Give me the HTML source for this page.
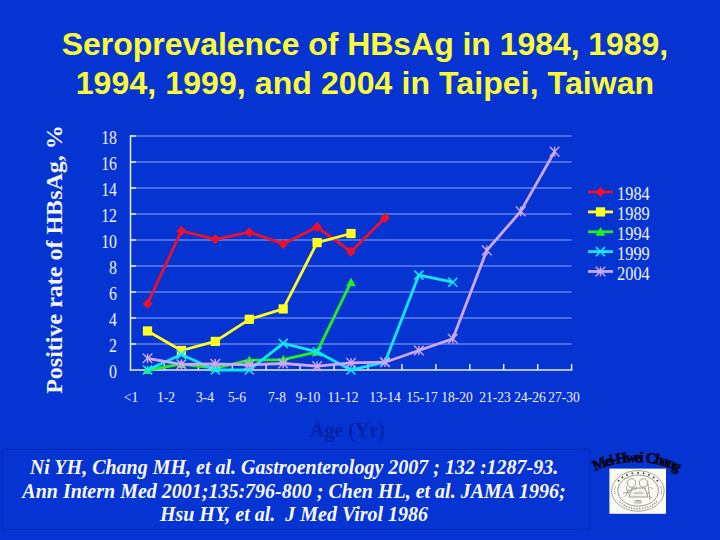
<!DOCTYPE html>
<html><head><meta charset="utf-8"><style>
html,body{margin:0;padding:0;}
body{width:720px;height:540px;overflow:hidden;background:#0634d3;position:relative;}
.t{position:absolute;left:0;width:730px;text-align:center;font-family:"Liberation Sans",sans-serif;font-weight:bold;font-size:32px;color:#fcfc36;line-height:37px;white-space:nowrap;}
.yl{position:absolute;right:603.5px;font-family:"Liberation Serif",serif;font-size:18px;color:#eef2ff;line-height:20px;transform:scaleX(0.88);transform-origin:100% 0;}
.xl{position:absolute;top:389px;width:100px;text-align:center;font-family:"Liberation Serif",serif;font-size:15px;color:#eef2ff;line-height:17px;white-space:nowrap;transform:scaleX(0.9);}
.lg{position:absolute;left:617px;font-family:"Liberation Serif",serif;font-size:18px;color:#eef2ff;line-height:20px;transform:scaleX(0.91);transform-origin:0 0;}
.ylab{position:absolute;font-family:"Liberation Serif",serif;font-weight:bold;font-size:24px;color:#f4f6ff;white-space:nowrap;line-height:27px;width:300px;text-align:center;transform:rotate(-90deg);left:-96px;top:246px;}
.age{position:absolute;left:310px;top:419px;font-family:"Liberation Serif",serif;font-weight:bold;font-size:20px;color:#0323a4;white-space:nowrap;line-height:23px;}
.box{position:absolute;left:2px;top:449px;width:586px;height:79px;border:1px solid #0428b6;background:#0634d3;}
.cit{position:absolute;left:0;width:588px;text-align:center;font-family:"Liberation Serif",serif;font-weight:bold;font-style:italic;font-size:20px;color:#f8f8ff;white-space:pre;line-height:23.7px;top:456px;}
svg{position:absolute;left:0;top:0;}
</style></head><body>
<div class="t" style="top:26px;letter-spacing:-0.05px">Seroprevalence of HBsAg in 1984, 1989,</div>
<div class="t" style="top:64.6px;letter-spacing:0.09px">1994, 1999, and 2004 in Taipei, Taiwan</div>
<div class="ylab">Positive rate of HBsAg, %</div>
<div class="yl" style="top:127.5px">18</div><div class="yl" style="top:153.5px">16</div><div class="yl" style="top:179.5px">14</div><div class="yl" style="top:205.5px">12</div><div class="yl" style="top:231.5px">10</div><div class="yl" style="top:257.5px">8</div><div class="yl" style="top:283.5px">6</div><div class="yl" style="top:309.5px">4</div><div class="yl" style="top:335.5px">2</div><div class="yl" style="top:361.5px">0</div>
<div class="xl" style="left:80.8px">&lt;1</div><div class="xl" style="left:116.0px">1-2</div><div class="xl" style="left:154.8px">3-4</div><div class="xl" style="left:187.0px">5-6</div><div class="xl" style="left:226.8px">7-8</div><div class="xl" style="left:257.6px">9-10</div><div class="xl" style="left:293.1px">11-12</div><div class="xl" style="left:334.6px">13-14</div><div class="xl" style="left:372.3px">15-17</div><div class="xl" style="left:407.3px">18-20</div><div class="xl" style="left:444.9px">21-23</div><div class="xl" style="left:479.7px">24-26</div><div class="xl" style="left:514.4px">27-30</div>
<div class="lg" style="top:184.4px">1984</div><div class="lg" style="top:204.3px">1989</div><div class="lg" style="top:224.2px">1994</div><div class="lg" style="top:244.0px">1999</div><div class="lg" style="top:263.9px">2004</div>
<div class="age">Age (Yr)</div>
<div class="box"></div>
<div class="cit">Ni YH, Chang MH, et al. Gastroenterology 2007 ; 132 :1287-93.
Ann Intern Med 2001;135:796-800 ; Chen HL, et al. JAMA 1996;
Hsu HY, et al.  J Med Virol 1986</div>
<svg width="720" height="540" viewBox="0 0 720 540">
<line x1="130.5" y1="136" x2="571.6" y2="136" stroke="#6482ea" stroke-width="1.4"/><line x1="130.5" y1="136" x2="136.0" y2="136" stroke="#e8f0ff" stroke-width="1.5"/><line x1="130.5" y1="162" x2="571.6" y2="162" stroke="#6482ea" stroke-width="1.4"/><line x1="130.5" y1="162" x2="136.0" y2="162" stroke="#e8f0ff" stroke-width="1.5"/><line x1="130.5" y1="188" x2="571.6" y2="188" stroke="#6482ea" stroke-width="1.4"/><line x1="130.5" y1="188" x2="136.0" y2="188" stroke="#e8f0ff" stroke-width="1.5"/><line x1="130.5" y1="214" x2="571.6" y2="214" stroke="#6482ea" stroke-width="1.4"/><line x1="130.5" y1="214" x2="136.0" y2="214" stroke="#e8f0ff" stroke-width="1.5"/><line x1="130.5" y1="240" x2="571.6" y2="240" stroke="#6482ea" stroke-width="1.4"/><line x1="130.5" y1="240" x2="136.0" y2="240" stroke="#e8f0ff" stroke-width="1.5"/><line x1="130.5" y1="266" x2="571.6" y2="266" stroke="#6482ea" stroke-width="1.4"/><line x1="130.5" y1="266" x2="136.0" y2="266" stroke="#e8f0ff" stroke-width="1.5"/><line x1="130.5" y1="292" x2="571.6" y2="292" stroke="#6482ea" stroke-width="1.4"/><line x1="130.5" y1="292" x2="136.0" y2="292" stroke="#e8f0ff" stroke-width="1.5"/><line x1="130.5" y1="318" x2="571.6" y2="318" stroke="#6482ea" stroke-width="1.4"/><line x1="130.5" y1="318" x2="136.0" y2="318" stroke="#e8f0ff" stroke-width="1.5"/><line x1="130.5" y1="344" x2="571.6" y2="344" stroke="#6482ea" stroke-width="1.4"/><line x1="130.5" y1="344" x2="136.0" y2="344" stroke="#e8f0ff" stroke-width="1.5"/><line x1="130.5" y1="135.3" x2="130.5" y2="370.7" stroke="#e4ecff" stroke-width="1.5"/><line x1="129.8" y1="370.0" x2="572.3" y2="370.0" stroke="#e4ecff" stroke-width="1.5"/><line x1="164.4" y1="364.0" x2="164.4" y2="370.0" stroke="#e4ecff" stroke-width="1.5"/><line x1="198.4" y1="364.0" x2="198.4" y2="370.0" stroke="#e4ecff" stroke-width="1.5"/><line x1="232.3" y1="364.0" x2="232.3" y2="370.0" stroke="#e4ecff" stroke-width="1.5"/><line x1="266.2" y1="364.0" x2="266.2" y2="370.0" stroke="#e4ecff" stroke-width="1.5"/><line x1="300.1" y1="364.0" x2="300.1" y2="370.0" stroke="#e4ecff" stroke-width="1.5"/><line x1="334.1" y1="364.0" x2="334.1" y2="370.0" stroke="#e4ecff" stroke-width="1.5"/><line x1="368.0" y1="364.0" x2="368.0" y2="370.0" stroke="#e4ecff" stroke-width="1.5"/><line x1="401.9" y1="364.0" x2="401.9" y2="370.0" stroke="#e4ecff" stroke-width="1.5"/><line x1="435.9" y1="364.0" x2="435.9" y2="370.0" stroke="#e4ecff" stroke-width="1.5"/><line x1="469.8" y1="364.0" x2="469.8" y2="370.0" stroke="#e4ecff" stroke-width="1.5"/><line x1="503.7" y1="364.0" x2="503.7" y2="370.0" stroke="#e4ecff" stroke-width="1.5"/><line x1="537.7" y1="364.0" x2="537.7" y2="370.0" stroke="#e4ecff" stroke-width="1.5"/><line x1="571.6" y1="364.0" x2="571.6" y2="370.0" stroke="#e4ecff" stroke-width="1.5"/><polyline points="147.5,303.7 181.4,230.9 215.3,239.3 249.3,232.2 283.2,243.9 317.1,227.0 351.0,251.7 385.0,217.9" fill="none" stroke="#ee1028" stroke-width="2.8" stroke-linejoin="round"/><path d="M147.5 298.7L152.5 303.7L147.5 308.7L142.5 303.7Z" fill="#ee1028"/><path d="M181.4 225.9L186.4 230.9L181.4 235.9L176.4 230.9Z" fill="#ee1028"/><path d="M215.3 234.3L220.3 239.3L215.3 244.3L210.3 239.3Z" fill="#ee1028"/><path d="M249.3 227.2L254.3 232.2L249.3 237.2L244.3 232.2Z" fill="#ee1028"/><path d="M283.2 238.9L288.2 243.9L283.2 248.9L278.2 243.9Z" fill="#ee1028"/><path d="M317.1 222.0L322.1 227.0L317.1 232.0L312.1 227.0Z" fill="#ee1028"/><path d="M351.0 246.7L356.0 251.7L351.0 256.7L346.0 251.7Z" fill="#ee1028"/><path d="M385.0 212.9L390.0 217.9L385.0 222.9L380.0 217.9Z" fill="#ee1028"/><polyline points="147.5,331.0 181.4,350.5 215.3,341.4 249.3,319.3 283.2,308.9 317.1,242.6 351.0,233.5" fill="none" stroke="#ffff20" stroke-width="2.8" stroke-linejoin="round"/><rect x="142.9" y="326.4" width="9.2" height="9.2" fill="#ffff20"/><rect x="176.8" y="345.9" width="9.2" height="9.2" fill="#ffff20"/><rect x="210.7" y="336.8" width="9.2" height="9.2" fill="#ffff20"/><rect x="244.7" y="314.7" width="9.2" height="9.2" fill="#ffff20"/><rect x="278.6" y="304.3" width="9.2" height="9.2" fill="#ffff20"/><rect x="312.5" y="238.0" width="9.2" height="9.2" fill="#ffff20"/><rect x="346.4" y="228.9" width="9.2" height="9.2" fill="#ffff20"/><polyline points="147.5,370.0 181.4,364.1 215.3,368.1 249.3,360.2 283.2,359.6 317.1,351.8 351.0,282.2" fill="none" stroke="#22ee22" stroke-width="2.8" stroke-linejoin="round"/><path d="M147.5 365.2L152.3 374.0L142.7 374.0Z" fill="#22ee22"/><path d="M181.4 359.3L186.2 368.1L176.6 368.1Z" fill="#22ee22"/><path d="M215.3 363.2L220.1 372.1L210.5 372.1Z" fill="#22ee22"/><path d="M249.3 355.4L254.1 364.2L244.5 364.2Z" fill="#22ee22"/><path d="M283.2 354.8L288.0 363.6L278.4 363.6Z" fill="#22ee22"/><path d="M317.1 347.0L321.9 355.8L312.3 355.8Z" fill="#22ee22"/><path d="M351.0 277.4L355.8 286.2L346.2 286.2Z" fill="#22ee22"/><polyline points="147.5,370.0 181.4,354.4 215.3,370.0 249.3,370.0 283.2,343.4 317.1,351.8 351.0,370.0 385.0,362.2 418.9,275.1 452.8,282.2" fill="none" stroke="#10e8ff" stroke-width="2.8" stroke-linejoin="round"/><path d="M143.0 365.5L152.0 374.5M152.0 365.5L143.0 374.5" stroke="#10e8ff" stroke-width="1.6" fill="none"/><path d="M176.9 349.9L185.9 358.9M185.9 349.9L176.9 358.9" stroke="#10e8ff" stroke-width="1.6" fill="none"/><path d="M210.8 365.5L219.8 374.5M219.8 365.5L210.8 374.5" stroke="#10e8ff" stroke-width="1.6" fill="none"/><path d="M244.8 365.5L253.8 374.5M253.8 365.5L244.8 374.5" stroke="#10e8ff" stroke-width="1.6" fill="none"/><path d="M278.7 338.9L287.7 347.9M287.7 338.9L278.7 347.9" stroke="#10e8ff" stroke-width="1.6" fill="none"/><path d="M312.6 347.3L321.6 356.3M321.6 347.3L312.6 356.3" stroke="#10e8ff" stroke-width="1.6" fill="none"/><path d="M346.5 365.5L355.5 374.5M355.5 365.5L346.5 374.5" stroke="#10e8ff" stroke-width="1.6" fill="none"/><path d="M380.5 357.7L389.5 366.7M389.5 357.7L380.5 366.7" stroke="#10e8ff" stroke-width="1.6" fill="none"/><path d="M414.4 270.6L423.4 279.6M423.4 270.6L414.4 279.6" stroke="#10e8ff" stroke-width="1.6" fill="none"/><path d="M448.3 277.8L457.3 286.8M457.3 277.8L448.3 286.8" stroke="#10e8ff" stroke-width="1.6" fill="none"/><polyline points="147.5,358.3 181.4,364.4 215.3,363.8 249.3,364.8 283.2,363.5 317.1,366.1 351.0,362.9 385.0,362.2 418.9,350.5 452.8,338.8 486.8,250.4 520.7,211.4 554.6,151.6" fill="none" stroke="#cfa8f4" stroke-width="2.8" stroke-linejoin="round"/><path d="M142.7 353.5L152.3 363.1M152.3 353.5L142.7 363.1M147.5 353.5L147.5 363.1" stroke="#cfa8f4" stroke-width="1.4" fill="none"/><path d="M176.6 359.6L186.2 369.2M186.2 359.6L176.6 369.2M181.4 359.6L181.4 369.2" stroke="#cfa8f4" stroke-width="1.4" fill="none"/><path d="M210.5 359.0L220.1 368.6M220.1 359.0L210.5 368.6M215.3 359.0L215.3 368.6" stroke="#cfa8f4" stroke-width="1.4" fill="none"/><path d="M244.5 360.0L254.1 369.6M254.1 360.0L244.5 369.6M249.3 360.0L249.3 369.6" stroke="#cfa8f4" stroke-width="1.4" fill="none"/><path d="M278.4 358.7L288.0 368.3M288.0 358.7L278.4 368.3M283.2 358.7L283.2 368.3" stroke="#cfa8f4" stroke-width="1.4" fill="none"/><path d="M312.3 361.3L321.9 370.9M321.9 361.3L312.3 370.9M317.1 361.3L317.1 370.9" stroke="#cfa8f4" stroke-width="1.4" fill="none"/><path d="M346.2 358.1L355.8 367.7M355.8 358.1L346.2 367.7M351.0 358.1L351.0 367.7" stroke="#cfa8f4" stroke-width="1.4" fill="none"/><path d="M380.2 357.4L389.8 367.0M389.8 357.4L380.2 367.0M385.0 357.4L385.0 367.0" stroke="#cfa8f4" stroke-width="1.4" fill="none"/><path d="M414.1 345.7L423.7 355.3M423.7 345.7L414.1 355.3M418.9 345.7L418.9 355.3" stroke="#cfa8f4" stroke-width="1.4" fill="none"/><path d="M448.0 334.0L457.6 343.6M457.6 334.0L448.0 343.6M452.8 334.0L452.8 343.6" stroke="#cfa8f4" stroke-width="1.4" fill="none"/><path d="M482.0 245.6L491.6 255.2M491.6 245.6L482.0 255.2M486.8 245.6L486.8 255.2" stroke="#cfa8f4" stroke-width="1.4" fill="none"/><path d="M515.9 206.6L525.5 216.2M525.5 206.6L515.9 216.2M520.7 206.6L520.7 216.2" stroke="#cfa8f4" stroke-width="1.4" fill="none"/><path d="M549.8 146.8L559.4 156.4M559.4 146.8L549.8 156.4M554.6 146.8L554.6 156.4" stroke="#cfa8f4" stroke-width="1.4" fill="none"/><line x1="588" y1="192" x2="613" y2="192" stroke="#ee1028" stroke-width="2.8"/><path d="M600.5 187.0L605.5 192.0L600.5 197.0L595.5 192.0Z" fill="#ee1028"/><line x1="588" y1="211.9" x2="613" y2="211.9" stroke="#ffff20" stroke-width="2.8"/><rect x="595.9" y="207.3" width="9.2" height="9.2" fill="#ffff20"/><line x1="588" y1="231.8" x2="613" y2="231.8" stroke="#22ee22" stroke-width="2.8"/><path d="M600.5 227.0L605.3 235.8L595.7 235.8Z" fill="#22ee22"/><line x1="588" y1="251.6" x2="613" y2="251.6" stroke="#10e8ff" stroke-width="2.8"/><path d="M596.0 247.1L605.0 256.1M605.0 247.1L596.0 256.1" stroke="#10e8ff" stroke-width="1.6" fill="none"/><line x1="588" y1="271.5" x2="613" y2="271.5" stroke="#cfa8f4" stroke-width="2.8"/><path d="M595.7 266.7L605.3 276.3M605.3 266.7L595.7 276.3M600.5 266.7L600.5 276.3" stroke="#cfa8f4" stroke-width="1.4" fill="none"/>
<rect x="609.4" y="468.6" width="56.6" height="45.2" fill="#fbfbf6"/>
<ellipse cx="637.9" cy="490.9" rx="26.3" ry="20.3" fill="none" stroke="#a09890" stroke-width="0.9"/>
<ellipse cx="638.1" cy="490.6" rx="20.3" ry="15.6" fill="none" stroke="#8e887e" stroke-width="0.9"/>
<rect x="617.70" y="479.83" width="1.8" height="1.8" fill="#5a5448" transform="rotate(-56.0 618.60 480.73)"/><rect x="621.44" y="476.52" width="1.8" height="1.8" fill="#5a5448" transform="rotate(-42.0 622.34 477.42)"/><rect x="626.11" y="474.01" width="1.8" height="1.8" fill="#5a5448" transform="rotate(-28.0 627.01 474.91)"/><rect x="631.44" y="472.43" width="1.8" height="1.8" fill="#5a5448" transform="rotate(-14.0 632.34 473.33)"/><rect x="637.10" y="471.90" width="1.8" height="1.8" fill="#5a5448" transform="rotate(0.0 638.00 472.80)"/><rect x="642.76" y="472.43" width="1.8" height="1.8" fill="#5a5448" transform="rotate(14.0 643.66 473.33)"/><rect x="648.09" y="474.01" width="1.8" height="1.8" fill="#5a5448" transform="rotate(28.0 648.99 474.91)"/><rect x="652.76" y="476.52" width="1.8" height="1.8" fill="#5a5448" transform="rotate(42.0 653.66 477.42)"/><rect x="656.50" y="479.83" width="1.8" height="1.8" fill="#5a5448" transform="rotate(56.0 657.40 480.73)"/><rect x="655.84" y="501.18" width="1.2" height="1.4" fill="#8a8478" transform="rotate(308.0 656.44 501.88)"/><rect x="654.00" y="502.78" width="1.2" height="1.4" fill="#8a8478" transform="rotate(314.8 654.60 503.48)"/><rect x="651.93" y="504.21" width="1.2" height="1.4" fill="#8a8478" transform="rotate(321.6 652.53 504.91)"/><rect x="649.66" y="505.43" width="1.2" height="1.4" fill="#8a8478" transform="rotate(328.4 650.26 506.13)"/><rect x="647.22" y="506.44" width="1.2" height="1.4" fill="#8a8478" transform="rotate(335.2 647.82 507.14)"/><rect x="644.63" y="507.22" width="1.2" height="1.4" fill="#8a8478" transform="rotate(342.0 645.23 507.92)"/><rect x="641.95" y="507.76" width="1.2" height="1.4" fill="#8a8478" transform="rotate(348.8 642.55 508.46)"/><rect x="639.20" y="508.05" width="1.2" height="1.4" fill="#8a8478" transform="rotate(355.6 639.80 508.75)"/><rect x="636.42" y="508.08" width="1.2" height="1.4" fill="#8a8478" transform="rotate(362.4 637.02 508.78)"/><rect x="633.66" y="507.87" width="1.2" height="1.4" fill="#8a8478" transform="rotate(369.2 634.26 508.57)"/><rect x="630.95" y="507.40" width="1.2" height="1.4" fill="#8a8478" transform="rotate(376.0 631.55 508.10)"/><rect x="628.33" y="506.69" width="1.2" height="1.4" fill="#8a8478" transform="rotate(382.8 628.93 507.39)"/><rect x="625.84" y="505.75" width="1.2" height="1.4" fill="#8a8478" transform="rotate(389.6 626.44 506.45)"/><rect x="623.51" y="504.59" width="1.2" height="1.4" fill="#8a8478" transform="rotate(396.4 624.11 505.29)"/><rect x="621.38" y="503.22" width="1.2" height="1.4" fill="#8a8478" transform="rotate(403.2 621.98 503.92)"/><rect x="619.47" y="501.67" width="1.2" height="1.4" fill="#8a8478" transform="rotate(410.0 620.07 502.37)"/><rect x="614.61" y="486.36" width="1" height="1.4" fill="#9a9488"/><rect x="614.19" y="488.53" width="1" height="1.4" fill="#9a9488"/><rect x="614.11" y="490.73" width="1" height="1.4" fill="#9a9488"/><rect x="614.39" y="492.92" width="1" height="1.4" fill="#9a9488"/><rect x="660.39" y="486.36" width="1" height="1.4" fill="#9a9488"/><rect x="660.81" y="488.53" width="1" height="1.4" fill="#9a9488"/><rect x="660.89" y="490.73" width="1" height="1.4" fill="#9a9488"/><rect x="660.61" y="492.92" width="1" height="1.4" fill="#9a9488"/>
<circle cx="631.5" cy="483" r="4.3" fill="none" stroke="#8a8478" stroke-width="0.8"/>
<circle cx="643.5" cy="483" r="4.3" fill="none" stroke="#8a8478" stroke-width="0.8"/>
<path d="M632 488 L645 488 L648 497 L629 497 Z" fill="#f4f2ec" stroke="#8a8478" stroke-width="0.8"/>
<path d="M629 491 L637 488 M626 486 L628 494 M623 493 L630 492 M625 497 L629 489 M648 484 L650 500 M650 487 L653 489 M650 492 L647 494 M649 497 L652 498 M634 493 L643 493" stroke="#8a8478" stroke-width="0.7" fill="none"/>
<rect x="634.5" y="500.5" width="7" height="3.2" rx="1" fill="none" stroke="#9a948a" stroke-width="0.5"/>
<text x="638" y="503.2" font-family="Liberation Sans" font-size="2.8" fill="#6a6458" text-anchor="middle">1899</text>
<path id="arc" d="M583 488 A53 26 0 0 1 689 488" fill="none"/>
<text font-family="Liberation Serif" font-weight="bold" font-size="14.8" fill="#05051a" stroke="#05051a" stroke-width="0.6" letter-spacing="-1.85" word-spacing="2"><textPath href="#arc" startOffset="50%" text-anchor="middle">Mei-Hwei Chang</textPath></text>
</svg>
</body></html>
